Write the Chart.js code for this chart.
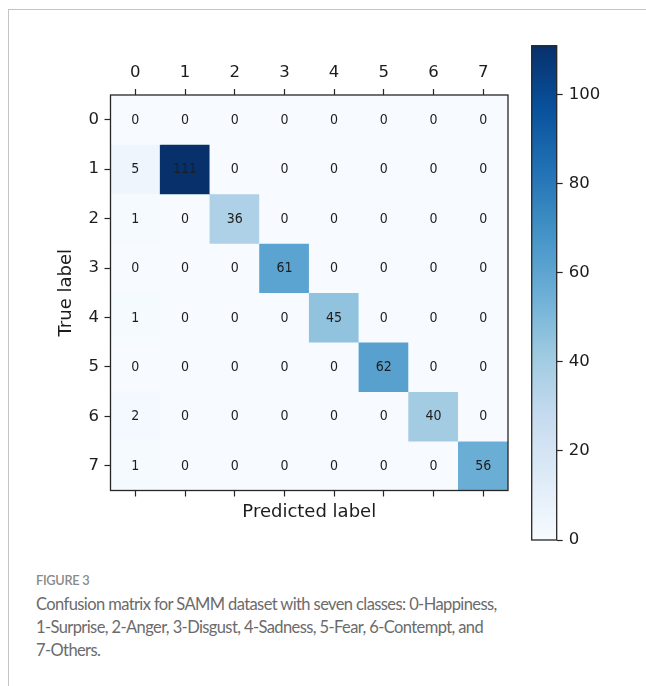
<!DOCTYPE html>
<html>
<head>
<meta charset="utf-8">
<title>Confusion matrix – SAMM</title>
<script src="https://cdn.jsdelivr.net/npm/chart.js@4.4.1/dist/chart.umd.min.js"></script>
<style>
  html, body { margin: 0; padding: 0; background: #fff; }
  body { position: relative; width: 646px; height: 686px; overflow: hidden; }
  .frame { position: absolute; left: 8px; top: 9px; right: -2px; bottom: -2px;
           border-top: 1px solid #c4c4c4; border-left: 1px solid #c4c4c4; }
  #heat { position: absolute; left: 0; top: 0; }
  #cbar { position: absolute; left: 500px; top: 0; }
  .fig-no { position: absolute; left: 36px; top: 571px; font: 600 12.8px Lato, "Open Sans", sans-serif;
            color: #8a8a8a; line-height: 18px; letter-spacing: -0.3px; white-space: nowrap; }
  .cap { position: absolute; left: 36px; font: 400 16.5px Lato, "Open Sans", sans-serif;
         color: #6b6b6b; line-height: 22.8px; white-space: nowrap; letter-spacing: -0.6px; }
</style>
</head>
<body>
<div class="frame"></div>
<canvas id="heat" width="520" height="540"></canvas>
<canvas id="cbar" width="146" height="560"></canvas>
<div class="fig-no">FIGURE 3</div>
<div class="cap" style="top:593px">Confusion matrix for SAMM dataset with seven classes: 0-Happiness,</div>
<div class="cap" style="top:615.8px">1-Surprise, 2-Anger, 3-Disgust, 4-Sadness, 5-Fear, 6-Contempt, and</div>
<div class="cap" style="top:638.6px">7-Others.</div>
<script>
// Class indices (predicted = columns, true = rows)
const classes = ['0', '1', '2', '3', '4', '5', '6', '7'];

// Counts per true label, one array per row
const row0 = [0, 0, 0, 0, 0, 0, 0, 0];
const row1 = [5, 111, 0, 0, 0, 0, 0, 0];
const row2 = [1, 0, 36, 0, 0, 0, 0, 0];
const row3 = [0, 0, 0, 61, 0, 0, 0, 0];
const row4 = [1, 0, 0, 0, 45, 0, 0, 0];
const row5 = [0, 0, 0, 0, 0, 62, 0, 0];
const row6 = [2, 0, 0, 0, 0, 0, 40, 0];
const row7 = [1, 0, 0, 0, 0, 0, 0, 56];
const confusion = [row0, row1, row2, row3, row4, row5, row6, row7];

// Colour bar tick values
const colorbarTicks = [0, 20, 40, 60, 80, 100];

const vmax = Math.max(...confusion.flat());

// "Blues" sequential colour map
const BLUES = ['#f7fbff', '#deebf7', '#c6dbef', '#9ecae1', '#6baed6',
               '#4292c6', '#2171b5', '#08519c', '#08306b'];
function hexToRgb(h) {
  const n = parseInt(h.slice(1), 16);
  return [(n >> 16) & 255, (n >> 8) & 255, n & 255];
}
function blues(t) {
  t = Math.max(0, Math.min(1, t));
  const p = t * (BLUES.length - 1);
  const i = Math.min(Math.floor(p), BLUES.length - 2);
  const f = p - i;
  const a = hexToRgb(BLUES[i]), b = hexToRgb(BLUES[i + 1]);
  const c = a.map((v, k) => Math.round(v + (b[k] - v) * f));
  return `rgb(${c[0]},${c[1]},${c[2]})`;
}

const TEXT = '#1c1c1c';
const AXIS = '#262626';
const tickFont = { family: '"DejaVu Sans", sans-serif', size: 16.5 };
const titleFont = { family: '"DejaVu Sans", sans-serif', size: 18 };

// Each true-label row is a set of floating bars spanning one unit of the y scale
const datasets = confusion.map((row, r) => ({
  label: 'True ' + classes[r],
  data: row.map(() => [r, r + 1]),
  counts: row,
  backgroundColor: row.map(v => blues(v / vmax)),
  borderWidth: 0,
  barPercentage: 1,
  categoryPercentage: 1
}));

// Writes the count in the middle of every cell
const cellValues = {
  id: 'cellValues',
  afterDatasetsDraw(chart) {
    const ctx = chart.ctx;
    ctx.save();
    ctx.font = '14px "DejaVu Sans", sans-serif';
    ctx.fillStyle = '#1e1e1e';
    ctx.textAlign = 'center';
    ctx.textBaseline = 'middle';
    chart.data.datasets.forEach((ds, i) => {
      chart.getDatasetMeta(i).data.forEach((bar, j) => {
        const { x, y, base } = bar.getProps(['x', 'y', 'base'], true);
        ctx.save();
        ctx.translate(x, (y + base) / 2 + 0.5);
        ctx.scale(0.9, 1);
        ctx.fillText(String(ds.counts[j]), 0, 0);
        ctx.restore();
      });
    });
    ctx.restore();
  }
};

// Dark outline around the plotting area
const areaFrame = {
  id: 'areaFrame',
  afterDraw(chart) {
    const { ctx, chartArea: a } = chart;
    ctx.save();
    ctx.strokeStyle = AXIS;
    ctx.lineWidth = 1.3;
    ctx.strokeRect(a.left, a.top, a.right - a.left, a.bottom - a.top);
    ctx.restore();
  }
};

const tickGrid = { drawOnChartArea: false, offset: false, tickLength: 6, tickColor: AXIS, tickWidth: 1.2 };

new Chart(document.getElementById('heat'), {
  type: 'bar',
  data: { labels: classes, datasets },
  plugins: [cellValues, areaFrame],
  options: {
    responsive: false,
    animation: false,
    events: [],
    layout: { padding: { left: 0, top: 0, right: 12, bottom: 0 } },
    plugins: { legend: { display: false }, tooltip: { enabled: false } },
    scales: {
      x: {
        type: 'category',
        position: 'top',
        stacked: true,
        offset: true,
        grid: tickGrid,
        border: { display: false },
        ticks: { font: tickFont, color: TEXT, padding: 6, maxRotation: 0 },
        afterFit: s => { s.height = 95; }
      },
      xBottom: {
        type: 'category',
        position: 'bottom',
        labels: classes,
        offset: true,
        grid: tickGrid,
        border: { display: false },
        ticks: { display: false },
        title: { display: true, text: 'Predicted label', font: titleFont, color: TEXT, padding: { bottom: 16.4 } },
        afterFit: s => { s.height = 49.5; }
      },
      y: {
        type: 'linear',
        position: 'left',
        min: 0,
        max: classes.length,
        reverse: true,
        stacked: false,
        grid: tickGrid,
        border: { display: false },
        afterBuildTicks: s => { s.ticks = classes.map((c, i) => ({ value: i + 0.5 })); },
        ticks: {
          font: tickFont, color: TEXT, padding: 5.5,
          callback: v => classes[Math.floor(v)]
        },
        title: { display: true, text: 'True label', font: titleFont, color: TEXT, padding: { top: 56 } },
        afterFit: s => { s.width = 110.5; }
      }
    }
  }
});

// Colour bar
new Chart(document.getElementById('cbar'), {
  type: 'bar',
  data: {
    labels: [''],
    datasets: [{
      data: [[0, vmax]],
      backgroundColor: (c) => {
        const chart = c.chart;
        if (!chart.chartArea) return BLUES[4];
        const ys = chart.scales.y;
        const g = chart.ctx.createLinearGradient(0, ys.getPixelForValue(0), 0, ys.getPixelForValue(vmax));
        BLUES.forEach((col, i) => g.addColorStop(i / (BLUES.length - 1), col));
        return g;
      },
      borderWidth: 0,
      barPercentage: 1,
      categoryPercentage: 1
    }]
  },
  plugins: [areaFrame],
  options: {
    responsive: false,
    animation: false,
    events: [],
    layout: { padding: { left: 31.7, top: 45.7, right: 0, bottom: 20 } },
    plugins: { legend: { display: false }, tooltip: { enabled: false } },
    scales: {
      x: { display: false },
      y: {
        position: 'right',
        min: 0,
        max: vmax,
        grid: { drawOnChartArea: false, tickLength: 6, tickColor: AXIS, tickWidth: 1.2 },
        border: { display: false },
        afterBuildTicks: s => { s.ticks = colorbarTicks.map(v => ({ value: v })); },
        ticks: { font: tickFont, color: TEXT, padding: 6 },
        afterFit: s => { s.width = 89.3; }
      }
    }
  }
});
</script>
</body>
</html>
